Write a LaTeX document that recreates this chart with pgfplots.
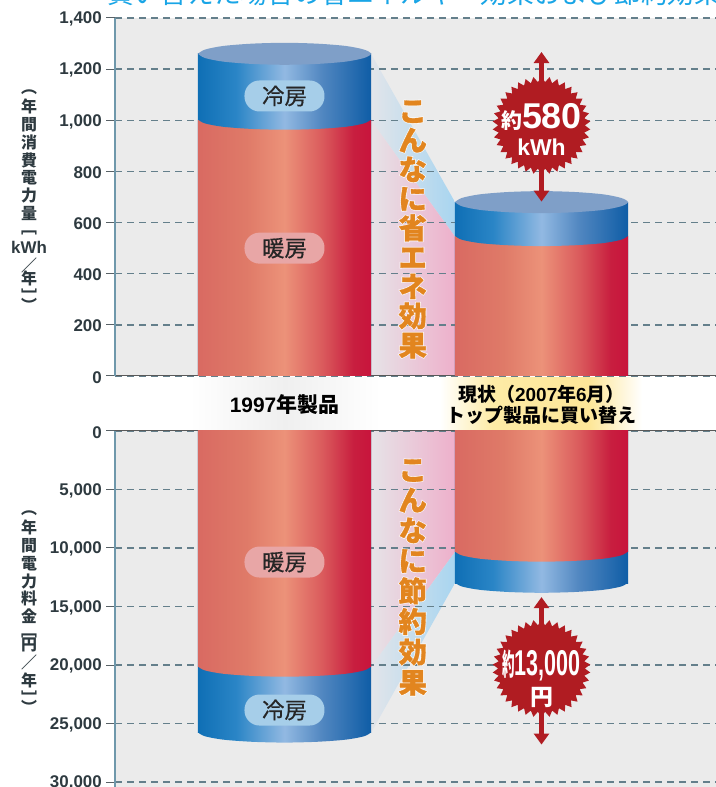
\documentclass[border=0pt]{standalone}
\usepackage{fontspec}
\usepackage{graphicx}
\usepackage{pgfplots}
\usepackage{pgfplotstable}
\pgfplotsset{compat=1.18}
\usetikzlibrary{shapes.geometric,arrows.meta}
\setmainfont{Liberation Sans}
\newfontfamily\jp{Noto Sans CJK JP}
\newfontfamily\jpm[FakeBold=0.5]{Noto Sans CJK JP}
\newfontfamily\jprim[BoldFeatures={FakeBold=6}]{Noto Sans CJK JP}
\newfontfamily\jpfat[BoldFeatures={FakeBold=1}]{Noto Sans CJK JP}

\definecolor{bggray}{HTML}{EBEBEB}
\definecolor{gridcol}{HTML}{647F8B}
\definecolor{axblue}{HTML}{6F98AB}
\definecolor{tickcol}{HTML}{2E3A40}
\definecolor{capblue}{HTML}{7F9FC8}
\definecolor{pillblue}{HTML}{A6CEE9}
\definecolor{pillred}{HTML}{E8A6A6}
\definecolor{starred}{HTML}{B01C22}
\definecolor{orangetxt}{HTML}{E2851F}
\definecolor{titleblue}{HTML}{19A5E6}

\definecolor{ba}{HTML}{0F6FB5}\definecolor{bb}{HTML}{2A85C6}\definecolor{bc}{HTML}{92B9E2}
\definecolor{bd}{HTML}{5086C0}\definecolor{be}{HTML}{0F5DA6}
\definecolor{ra}{HTML}{D96A62}\definecolor{rb}{HTML}{DF7A68}\definecolor{rc}{HTML}{EC9279}
\definecolor{rd}{HTML}{DA5A5C}\definecolor{re}{HTML}{C81E3F}\definecolor{rf}{HTML}{C8143C}
\definecolor{pa}{HTML}{E2E5EA}\definecolor{pb}{HTML}{A8D5F0}
\definecolor{qa}{HTML}{E6E3E7}\definecolor{qb}{HTML}{EEB0CB}
\definecolor{ya}{HTML}{FDEBA6}\definecolor{yb}{HTML}{FDE698}\definecolor{ga}{HTML}{EFEFEF}

% tikz fits 25bp..75bp of a shading to the path
\pgfdeclarehorizontalshading{bluecyl}{100bp}{
  color(0bp)=(ba); color(25bp)=(ba); color(36bp)=(bb); color(50bp)=(bc); color(61bp)=(bd); color(75bp)=(be); color(100bp)=(be)}
\pgfdeclarehorizontalshading{redcyl}{100bp}{
  color(0bp)=(ra); color(25bp)=(ra); color(39bp)=(rb); color(50bp)=(rc); color(61bp)=(rd); color(70bp)=(re); color(75bp)=(rf); color(100bp)=(rf)}
\pgfdeclarehorizontalshading{ribblue}{100bp}{color(0bp)=(pa); color(25bp)=(pa); color(75bp)=(pb); color(100bp)=(pb)}
\pgfdeclarehorizontalshading{ribpink}{100bp}{color(0bp)=(qa); color(25bp)=(qa); color(75bp)=(qb); color(100bp)=(qb)}
\pgfdeclarehorizontalshading{bandyellow}{100bp}{
  color(0bp)=(white); color(25bp)=(white); color(38bp)=(ya); color(62bp)=(yb); color(75bp)=(white); color(100bp)=(white)}
\pgfdeclarehorizontalshading{bandgray}{100bp}{
  color(0bp)=(white); color(25bp)=(white); color(50bp)=(ga); color(75bp)=(white); color(100bp)=(white)}

% outlines of the cylinder ends, unit size
\pgfplotstableread{
u v
-1 0
-0.92 0.38
-0.71 0.71
-0.38 0.92
0 1
0.38 0.92
0.71 0.71
0.92 0.38
1 0
0.92 -0.38
0.71 -0.71
0.38 -0.92
0 -1
-0.38 -0.92
-0.71 -0.71
-0.92 -0.38
-1 0
}\capshape
\pgfplotstableread{
u v
-1 0
-0.92 0.38
-0.71 0.71
-0.38 0.92
0 1
0.38 0.92
0.71 0.71
0.92 0.38
1 0
}\arcshape

% orange vertical text with a pale rim: #1 position, #2 leading, #3 text
\newcommand{\rimtext}[3]{%
  \node[align=center,text=white,opacity=0.85,font=\jprim\bfseries\fontsize{28.5}{#2}\selectfont] at #1 {#3};%
  \node[align=center,text=orangetxt,font=\jpfat\bfseries\fontsize{28.5}{#2}\selectfont] at #1 {#3};}

\newcommand{\pill}[2]{%
  \node[rounded corners=15bp,fill=#1,minimum width=80bp,minimum height=31bp,inner sep=0pt,
    text=black!85,font=\jpm\fontsize{22.5}{22.5}\selectfont] at #2;}

\pgfplotsset{
  panel/.style={
    set layers,
    clip mode=individual,
    scale only axis,
    width=601bp,
    xmin=-0.6595, xmax=1.679,
    axis background/.style={fill=bggray},
    axis y line*=left,
    ymajorgrids,
    grid style={draw=gridcol,line width=1.3bp,dash pattern=on 7bp off 5bp},
    y axis line style={draw=axblue,line width=1.3bp},
    x axis line style={draw=black!65,line width=1bp},
    ytick style={draw=tickcol!80,line width=1bp},
    tick align=outside,
    major tick length=9bp,
    xtick={0,1},
    xtick style={draw=none},
    /pgf/number format/assume math mode=true,
    /pgf/number format/1000 sep={,},
    yticklabel style={font=\bfseries\fontsize{17}{17}\selectfont,text=tickcol,inner sep=0pt,anchor=east,xshift=-4bp,yshift=-1.2bp},
  },
  cyl/.style={ybar,bar width=0.6732,bar shift=0,draw=none,shading=#1},
  rib/.style={draw=none,shading=#1,on layer=axis background},
}

\begin{document}
\begin{tikzpicture}

% clipped title line at the top of the page
\node[anchor=base west,text=titleblue,inner sep=0pt,font=\jp\fontsize{26.8}{26.8}\selectfont] at (107bp,783bp)
  {買い替えた場合の省エネルギー効果および節約効果};

% upper panel: annual consumption
\begin{axis}[panel,
  at={(115bp,411bp)},anchor=south west,height=358bp,
  ymin=0,ymax=1400,ytick={0,200,...,1400},
  axis x line*=bottom,
  xticklabels={{\bfseries\fontsize{21}{21}\selectfont 1997{\jp 年製品}},{\bfseries{\jp 現状（}2007{\jp 年}6{\jp 月）}\\\jp\bfseries トップ製品に買い替え}},
  xticklabel style={anchor=center,align=center,yshift=-20bp,text=black,
    font=\fontsize{19}{21.5}\selectfont},
]
% soft band behind the category names
\pgfplotsextra{\begin{pgfonlayer}{axis background}
  \shade[shading=bandyellow] (axis cs:0.605,-211) rectangle (axis cs:1.391,-4);
  \shade[shading=bandgray] (axis cs:-0.368,-211) rectangle (axis cs:0.372,-4);
\end{pgfonlayer}}
\addplot[rib=ribblue] coordinates {(0.3366,1260) (0.6634,680) (0.6634,545) (0.3366,1000)};
\addplot[rib=ribpink] coordinates {(0.3366,1000) (0.6634,545) (0.6634,0) (0.3366,0)};
% total and heating, one plot per bar so that each has its own shading
\addplot[cyl=bluecyl] coordinates {(0,1260)};
\addplot[cyl=bluecyl] coordinates {(1,680)};
\addplot[cyl=redcyl] coordinates {(0,1000)};
\addplot[cyl=redcyl] coordinates {(1,545)};
% curved edges, started a little inside the bar to hide the seam
\addplot[draw=none,shading=bluecyl,smooth] table[x expr=\thisrow{u}*0.3366,y expr=1003-\thisrow{v}*40] {\arcshape};
\addplot[draw=none,shading=bluecyl,smooth] table[x expr=1+\thisrow{u}*0.3366,y expr=548-\thisrow{v}*40] {\arcshape};
\addplot[draw=none,fill=capblue,smooth] table[x expr=\thisrow{u}*0.3366,y expr=1260+\thisrow{v}*43] {\capshape};
\addplot[draw=none,fill=capblue,smooth] table[x expr=1+\thisrow{u}*0.3366,y expr=680+\thisrow{v}*43] {\capshape};

\pill{pillblue}{(axis cs:0,1095) {冷房}}
\pill{pillred}{(axis cs:0,500) {暖房}}
\rimtext{(axis cs:0.499,573)}{29.4}{こ\\ん\\な\\に\\省\\エ\\ネ\\効\\果}

\draw[draw=starred,line width=5bp,{Triangle[width=15bp,length=11bp]}-{Triangle[width=15bp,length=11bp]}]
  (axis cs:1,1267) -- (axis cs:1,682);
\node[star,star points=38,star point ratio=1.13,minimum size=98bp,inner sep=0pt,fill=starred] at (axis cs:1,980) {};
\node[text=white,font=\bfseries\fontsize{36}{36}\selectfont,inner sep=0pt] at (axis cs:1,1012)
  {{\jp\bfseries\fontsize{21}{21}\selectfont 約}580};
\node[text=white,font=\bfseries\fontsize{23}{23}\selectfont,inner sep=0pt] at (axis cs:1,896) {kWh};
\end{axis}

% lower panel: annual cost
\begin{axis}[panel,
  at={(115bp,0bp)},anchor=south west,height=356bp,
  y dir=reverse,
  ymin=0,ymax=30427,ytick={0,5000,...,30000},
  /pgf/number format/fixed,
  scaled y ticks=false,
  axis x line*=top,
  xticklabels={},
]
\addplot[rib=ribpink] coordinates {(0.3366,0) (0.6634,0) (0.6634,10340) (0.3366,20170)};
\addplot[rib=ribblue] coordinates {(0.3366,20170) (0.6634,10340) (0.6634,13000) (0.3366,25800)};
\addplot[cyl=bluecyl] coordinates {(0,25800)};
\addplot[cyl=bluecyl] coordinates {(1,13000)};
\addplot[cyl=redcyl] coordinates {(0,20170)};
\addplot[cyl=redcyl] coordinates {(1,10340)};
\addplot[draw=none,shading=redcyl,smooth] table[x expr=\thisrow{u}*0.3366,y expr=20130+\thisrow{v}*870] {\arcshape};
\addplot[draw=none,shading=redcyl,smooth] table[x expr=1+\thisrow{u}*0.3366,y expr=10300+\thisrow{v}*870] {\arcshape};
\addplot[draw=none,shading=bluecyl,smooth] table[x expr=\thisrow{u}*0.3366,y expr=25760+\thisrow{v}*870] {\arcshape};
\addplot[draw=none,shading=bluecyl,smooth] table[x expr=1+\thisrow{u}*0.3366,y expr=12960+\thisrow{v}*870] {\arcshape};

\pill{pillred}{(axis cs:0,11200) {暖房}}
\pill{pillblue}{(axis cs:0,23850) {冷房}}
\rimtext{(axis cs:0.499,12520)}{30.5}{こ\\ん\\な\\に\\節\\約\\効\\果}

\draw[draw=starred,line width=5bp,{Triangle[width=15bp,length=11bp]}-{Triangle[width=15bp,length=11bp]}]
  (axis cs:1,14200) -- (axis cs:1,26800);
\node[star,star points=38,star point ratio=1.13,minimum size=98bp,inner sep=0pt,fill=starred] at (axis cs:1,20300) {};
\node[text=white,font=\bfseries\fontsize{36}{36}\selectfont,inner sep=0pt] at (axis cs:1,20000)
  {\scalebox{0.42}[1]{\jp\bfseries\fontsize{30}{30}\selectfont 約}\scalebox{0.6}[1]{13,000}};
\node[text=white,font=\jp\bfseries\fontsize{23}{23}\selectfont,inner sep=0pt] at (axis cs:1,22750) {円};
\end{axis}

% stacked axis titles
\node[align=center,inner sep=0pt,text=tickcol,font=\jp\bfseries\fontsize{16}{18}\selectfont] at (29bp,586.5bp)
  {︵\\[1bp]年\\間\\消\\費\\電\\力\\量\\[-4bp]﹇\\[2bp]{\bfseries\fontsize{17}{17}\selectfont\rmfamily kWh}\\／\\[-5bp]年\\﹈\\[-9bp]︶};
\node[align=center,inner sep=0pt,text=tickcol,font=\jp\bfseries\fontsize{16}{18}\selectfont] at (29bp,175bp)
  {︵\\[1bp]年\\間\\電\\力\\料\\金\\[-4bp]﹇\\[-4bp]円\\／\\年\\﹈\\[-9bp]︶};

% the page is exactly the reference's size
\pgfresetboundingbox
\useasboundingbox (0,0) rectangle (716bp,787bp);
\end{tikzpicture}
\end{document}
